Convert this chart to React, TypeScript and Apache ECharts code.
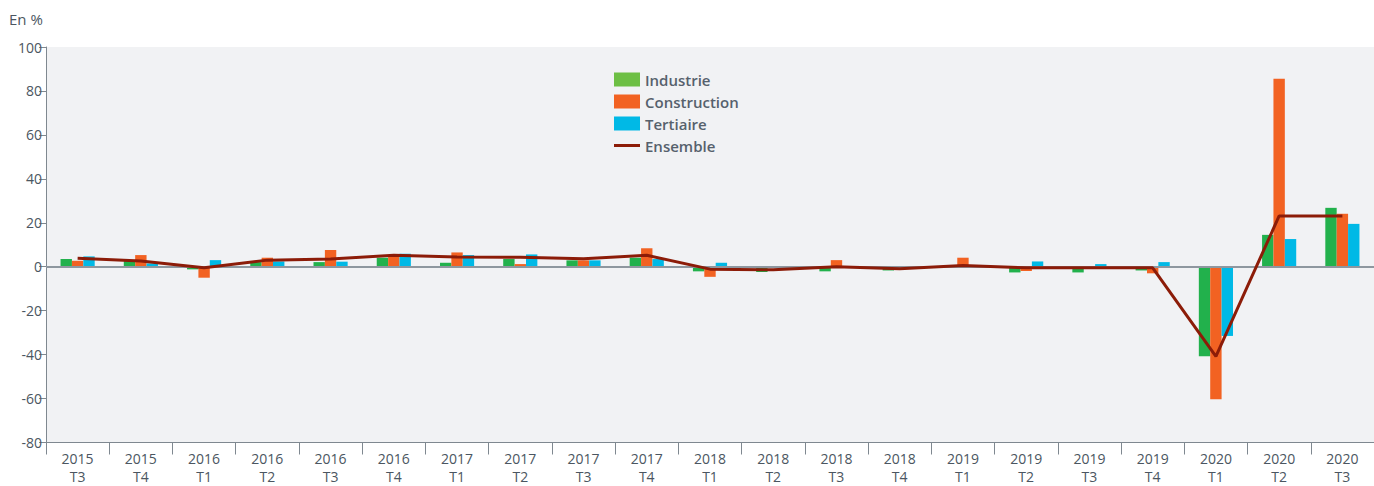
import React, { useEffect, useRef } from "react";
import * as echarts from "echarts";

const years = ["2015", "2015", "2016", "2016", "2016", "2016", "2017", "2017", "2017", "2017", "2018", "2018", "2018", "2018", "2019", "2019", "2019", "2019", "2020", "2020", "2020"];
const quarters = ["T3", "T4", "T1", "T2", "T3", "T4", "T1", "T2", "T3", "T4", "T1", "T2", "T3", "T4", "T1", "T2", "T3", "T4", "T1", "T2", "T3"];

const industrie = [3.5, 2.6, -1.2, 2.1, 2.1, 4.1, 1.8, 3.5, 2.9, 4.1, -2.1, -2.4, -2.1, -1.7, 0.2, -2.6, -2.6, -1.7, -40.7, 14.5, 26.8];
const construction = [2.7, 5.3, -5.0, 4.1, 7.6, 5.0, 6.5, 1.2, 2.9, 8.4, -4.6, -0.5, 3.0, -0.3, 4.1, -1.9, -0.3, -3.0, -60.3, 85.6, 24.1];
const tertiaire = [4.7, 1.5, 3.0, 2.4, 2.3, 5.9, 5.3, 5.6, 2.9, 3.5, 1.8, -0.4, -0.3, -0.3, -0.3, 2.4, 1.2, 2.1, -31.5, 12.6, 19.5];
const ensemble = [3.8, 2.6, -0.5, 3.0, 3.5, 5.2, 4.4, 4.3, 3.6, 5.2, -1.1, -1.4, 0, -0.9, 0.6, -0.5, -0.5, -0.5, -40.8, 23.1, 23.1];

const yTicks = { min: -80, max: 100, interval: 20 };

const FONT = "'Open Sans', 'Noto Sans', sans-serif";
const TEXT = "#4b5661";
const AXIS = "#7f8890";

export default function App() {
  const ref = useRef<HTMLDivElement>(null);
  useEffect(() => {
    if (!ref.current) return;
    const chart = echarts.init(ref.current, null, { renderer: "svg" });
    const categories = years.map((y, i) => `${y}\n${quarters[i]}`);
    chart.setOption({
      animation: false,
      textStyle: { fontFamily: FONT },
      title: {
        text: "En %",
        left: 4,
        top: 6,
        textStyle: { fontFamily: FONT, fontSize: 15, fontWeight: "normal", color: TEXT },
      },
      legend: {
        orient: "vertical",
        left: 609,
        top: 67,
        itemWidth: 26,
        itemHeight: 14,
        itemGap: 7,
        textStyle: { fontFamily: FONT, fontSize: 15, fontWeight: 600, color: "#56616c" },
        data: [
          { name: "Industrie", icon: "rect", itemStyle: { color: "#6dbf44" } },
          { name: "Construction", icon: "rect" },
          { name: "Tertiaire", icon: "rect" },
          {
            name: "Ensemble",
            icon: "path://M0,0 L0.01,0 M0,5.5 L26,5.5 L26,8.5 L0,8.5 Z M25.99,14 L26,14",
            itemStyle: { color: "#8c1c08" },
          },
        ],
      },
      grid: {
        left: 46,
        right: 0,
        top: 47,
        bottom: 43.5,
        show: true,
        backgroundColor: "#f1f2f4",
        borderWidth: 0,
        containLabel: false,
        outerBoundsMode: "none",
      },
      xAxis: {
        type: "category",
        data: categories,
        boundaryGap: true,
        axisLine: { onZero: false, lineStyle: { color: AXIS, width: 1 } },
        axisTick: { show: true, length: 12, lineStyle: { color: AXIS } },
        axisLabel: {
          fontFamily: FONT,
          fontSize: 14,
          lineHeight: 18,
          color: TEXT,
          margin: 7,
          interval: 0,
        },
        splitLine: { show: false },
      },
      yAxis: {
        type: "value",
        min: yTicks.min,
        max: yTicks.max,
        interval: yTicks.interval,
        axisLine: { show: true, lineStyle: { color: AXIS, width: 1 } },
        axisTick: { show: true, length: 7, lineStyle: { color: AXIS } },
        axisLabel: { fontFamily: FONT, fontSize: 14, color: TEXT, margin: 4 },
        splitLine: { show: false },
      },
      series: [
        {
          name: "Industrie",
          type: "bar",
          data: industrie,
          barGap: "0%",
          barCategoryGap: "46%",
          itemStyle: { color: "#22b14c" },
        },
        {
          name: "Construction",
          type: "bar",
          data: construction,
          barGap: "0%",
          barCategoryGap: "46%",
          itemStyle: { color: "#f26222" },
        },
        {
          name: "Tertiaire",
          type: "bar",
          data: tertiaire,
          barGap: "0%",
          barCategoryGap: "46%",
          itemStyle: { color: "#00b9e6" },
          markLine: {
            silent: true,
            symbol: "none",
            label: { show: false },
            lineStyle: { color: "#8e979f", width: 2, type: "solid" },
            data: [{ yAxis: 0 }],
          },
        },
        {
          name: "Ensemble",
          type: "line",
          data: ensemble,
          symbol: "none",
          z: 5,
          lineStyle: { color: "#8c1c08", width: 3 },
          itemStyle: { color: "#8c1c08" },
        },
      ],
    });
    return () => chart.dispose();
  }, []);
  return (
    <div
      ref={ref}
      style={{ position: "fixed", left: 0, top: 0, width: 1374, height: 486, background: "#ffffff" }}
    />
  );
}
